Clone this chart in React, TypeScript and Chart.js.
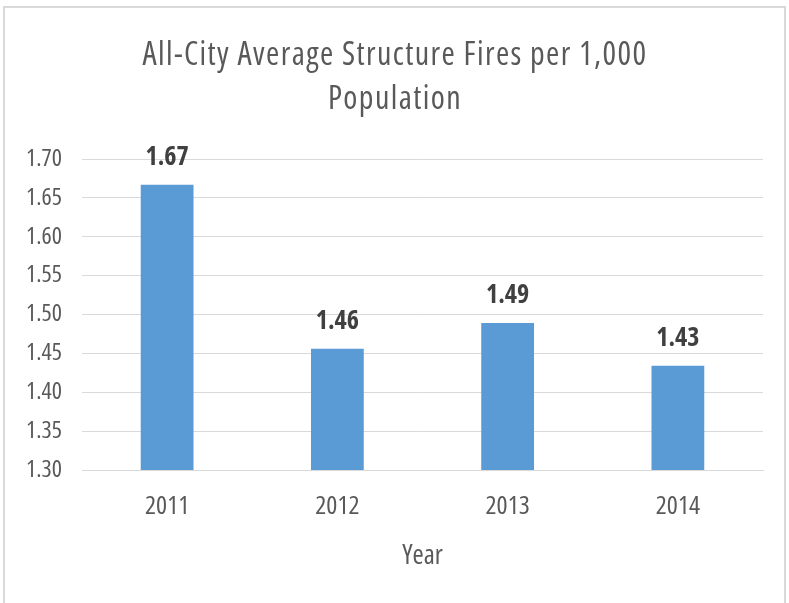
import React, { useEffect, useRef } from "react";
import { Chart, registerables } from "chart.js";

Chart.register(...registerables);

const categories = ["2011", "2012", "2013", "2014"];
const values = [1.667, 1.456, 1.489, 1.434];
const valueLabels = ["1.67", "1.46", "1.49", "1.43"];
const titleLines = ["All-City Average Structure Fires per 1,000", "Population"];
const xTitle = "Year";
const yMin = 1.3;
const yMax = 1.7;
const yStep = 0.05;

const FONT = "'Open Sans', sans-serif";
const NORMAL = "normal semi-condensed";
const BOLD = "bold semi-condensed";

const borderPlugin = {
  id: "outerBorder",
  beforeDraw(chart: any) {
    const ctx = chart.ctx;
    ctx.save();
    ctx.fillStyle = "#ffffff";
    ctx.fillRect(0, 0, chart.width, chart.height);
    ctx.strokeStyle = "#D9D9D9";
    ctx.lineWidth = 2;
    ctx.strokeRect(4, 7, 781, 700);
    ctx.restore();
  },
};

const titlePlugin = {
  id: "twoLineTitle",
  afterDraw(chart: any) {
    const ctx = chart.ctx;
    ctx.save();
    ctx.font = `${NORMAL} 32px ${FONT}`;
    try {
      (ctx as any).letterSpacing = "1.4px";
    } catch (e) {}
    ctx.fillStyle = "#595959";
    ctx.textAlign = "center";
    ctx.textBaseline = "alphabetic";
    titleLines.forEach((line, i) => {
      ctx.fillText(line, 395, 65 + i * 44);
    });
    ctx.restore();
  },
};

const labelPlugin = {
  id: "barValueLabels",
  afterDatasetsDraw(chart: any) {
    const ctx = chart.ctx;
    const meta = chart.getDatasetMeta(0);
    ctx.save();
    ctx.font = `${BOLD} 26px ${FONT}`;
    ctx.fillStyle = "#404040";
    ctx.textAlign = "center";
    ctx.textBaseline = "alphabetic";
    meta.data.forEach((bar: any, i: number) => {
      ctx.fillText(valueLabels[i], bar.x, bar.y - 20);
    });
    ctx.restore();
  },
};

export default function App() {
  const ref = useRef<HTMLCanvasElement | null>(null);
  useEffect(() => {
    document.body.style.margin = "0";
    const chart = new Chart(ref.current as HTMLCanvasElement, {
      type: "bar",
      data: {
        labels: categories,
        datasets: [
          {
            data: values,
            backgroundColor: "#5B9BD5",
            categoryPercentage: 1,
            barPercentage: 0.31,
          },
        ],
      },
      options: {
        animation: false,
        responsive: false,
        layout: { padding: { left: 0, right: 26, top: 159, bottom: 30 } },
        plugins: {
          legend: { display: false },
          tooltip: { enabled: false },
          title: { display: false },
        },
        scales: {
          x: {
            grid: { display: false, drawTicks: false },
            border: { display: true, color: "#D9D9D9", width: 1 },
            ticks: {
              color: "#595959",
              font: { family: FONT, size: 26, weight: NORMAL as any },
              padding: 21,
            },
            title: {
              display: true,
              text: xTitle,
              color: "#595959",
              font: { family: FONT, size: 27, weight: NORMAL as any, lineHeight: 1.2 },
              padding: { top: 0, bottom: 0 },
            },
            afterFit(scale: any) {
              scale.height = 103;
            },
          },
          y: {
            min: yMin,
            max: yMax,
            grid: { color: "#D9D9D9", drawTicks: false, lineWidth: 1 },
            border: { display: false },
            ticks: {
              stepSize: yStep,
              color: "#595959",
              font: { family: FONT, size: 24, weight: NORMAL as any },
              padding: 20,
              callback: (v: any) => Number(v).toFixed(2),
            },
            afterFit(scale: any) {
              scale.width = 82;
            },
          },
        },
      },
      plugins: [borderPlugin, labelPlugin, titlePlugin],
    });
    return () => chart.destroy();
  }, []);
  return (
    <div style={{ position: "absolute", left: 0, top: 0, width: 789, height: 603 }}>
      <canvas ref={ref} width={789} height={603} />
    </div>
  );
}
